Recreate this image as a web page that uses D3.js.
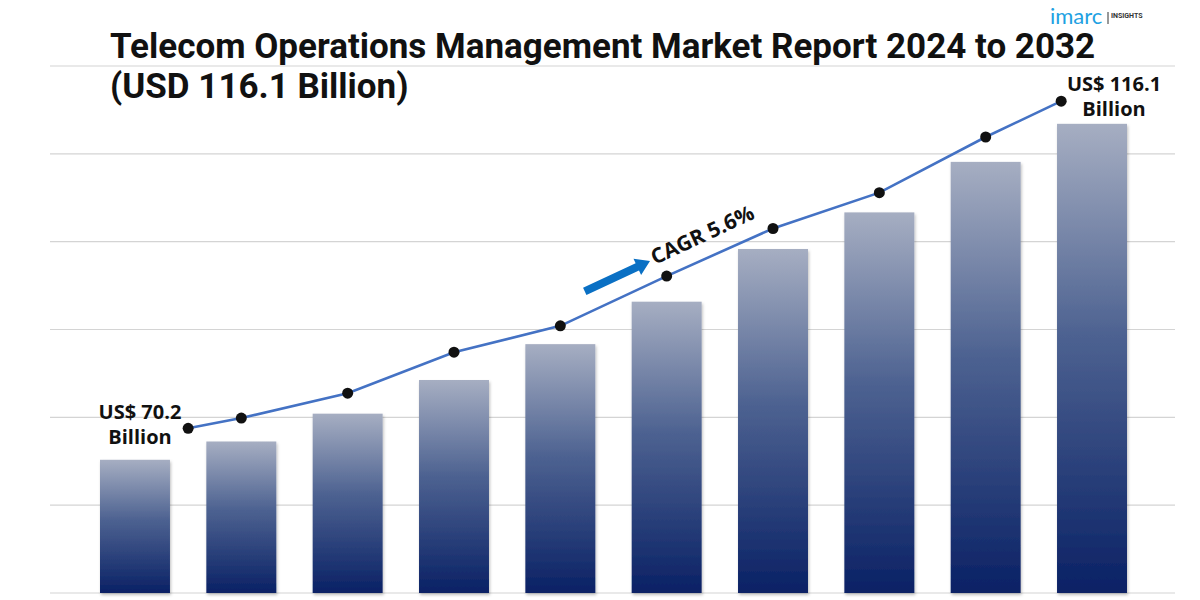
<!DOCTYPE html>
<html>
<head>
<meta charset="utf-8">
<script src="https://cdn.jsdelivr.net/npm/d3@7"></script>
<style>
  html, body { margin: 0; padding: 0; background: #ffffff; }
  svg { display: block; }
</style>
</head>
<body>
<svg id="chart" width="1200" height="600"></svg>
<script>
// ---------- data ----------
const years = ["2023","2024","2025","2026","2027","2028","2029","2030","2031","2032"];
const barValues = [70.2, 72.7, 76.5, 81.1, 86.0, 91.8, 99.0, 104.0, 110.9, 116.1];
const trendValues = [74.5, 75.9, 79.3, 84.9, 88.5, 95.3, 101.8, 106.7, 114.3, 119.2];
const gridValues = [52, 64, 76, 88, 100, 112, 124];
const titleLines = ["Telecom Operations Management Market Report 2024 to 2032", "(USD 116.1 Billion)"];
const startLabel = ["US$ 70.2", "Billion"];
const endLabel = ["US$ 116.1", "Billion"];
const cagrLabel = "CAGR 5.6%";

// ---------- layout ----------
const svg = d3.select("#chart");

const x = d3.scaleBand().domain(years).range([100, 1127]).paddingInner(0.342).paddingOuter(0);
const y = d3.scaleLinear().domain([52, 124]).range([593, 66]);
const cx = i => x(years[i]) + x.bandwidth() / 2;

const defs = svg.append("defs");
const grad = defs.append("linearGradient").attr("id", "barGrad")
  .attr("x1", 0).attr("y1", 0).attr("x2", 0).attr("y2", 1);
grad.append("stop").attr("offset", "0%").attr("stop-color", "#a6aec2");
grad.append("stop").attr("offset", "45%").attr("stop-color", "#4d6291");
grad.append("stop").attr("offset", "100%").attr("stop-color", "#0a2165");

const shadow = defs.append("filter").attr("id", "shadow")
  .attr("x", "-10%").attr("y", "-5%").attr("width", "130%").attr("height", "115%");
shadow.append("feDropShadow").attr("dx", 1).attr("dy", 2).attr("stdDeviation", 1.5)
  .attr("flood-color", "#000").attr("flood-opacity", 0.25);

// gridlines
svg.append("g").selectAll("line").data(gridValues).join("line")
  .attr("x1", 50).attr("x2", 1175)
  .attr("y1", d => y(d)).attr("y2", d => y(d))
  .attr("stroke", "#d4d4d4").attr("stroke-width", 1.2);

// bars
svg.append("g").selectAll("rect").data(barValues).join("rect")
  .attr("x", (d, i) => x(years[i]))
  .attr("width", x.bandwidth())
  .attr("y", d => y(d))
  .attr("height", d => y(52) - y(d))
  .attr("fill", "url(#barGrad)")
  .attr("filter", "url(#shadow)");

// trend line: end points pulled inward toward neighbours
const step = x.step();
const lastIdx = years.length - 1;
const lx = (d, i) => {
  if (i === 0) return cx(i) + 0.5 * step;
  if (i === lastIdx) return cx(i) - 0.29 * step;
  return cx(i);
};
const line = d3.line().x((d, i) => lx(d, i)).y(d => y(d));
svg.append("path").datum(trendValues)
  .attr("d", line)
  .attr("fill", "none")
  .attr("stroke", "#4472c4")
  .attr("stroke-width", 2.6);
svg.append("g").selectAll("circle").data(trendValues).join("circle")
  .attr("cx", (d, i) => lx(d, i))
  .attr("cy", d => y(d))
  .attr("r", 5.5)
  .attr("fill", "#111");

// title
svg.append("g").selectAll("text").data(titleLines).join("text")
  .attr("x", 110)
  .attr("y", (d, i) => 58 + i * 40)
  .attr("font-family", "Roboto, 'Noto Sans', sans-serif")
  .attr("font-weight", 700)
  .attr("font-size", 35)
  .attr("fill", "#111")
  .text(d => d);

// value labels
const lblFont = "'Open Sans', 'Noto Sans', sans-serif";
svg.append("g").selectAll("text").data(startLabel).join("text")
  .attr("x", cx(0) + 5)
  .attr("y", (d, i) => y(barValues[0]) - 41 + i * 25)
  .attr("text-anchor", "middle")
  .attr("font-family", lblFont).attr("font-weight", 700).attr("font-size", 20)
  .attr("fill", "#111").text(d => d);
svg.append("g").selectAll("text").data(endLabel).join("text")
  .attr("x", cx(lastIdx) + 22)
  .attr("y", (d, i) => y(barValues[lastIdx]) - 33 + i * 25)
  .attr("text-anchor", "middle")
  .attr("font-family", lblFont).attr("font-weight", 700).attr("font-size", 20)
  .attr("fill", "#111").text(d => d);

// CAGR label + arrow
const cg = svg.append("g").attr("transform", "translate(655,265) rotate(-25)");
cg.append("text").attr("x", 0).attr("y", 0)
  .attr("font-family", lblFont).attr("font-weight", 700).attr("font-size", 21)
  .attr("fill", "#111").text(cagrLabel);
const ag = svg.append("g").attr("transform", "translate(650,261) rotate(-25)");
ag.append("path")
  .attr("d", "M-72,-4 L-14,-4 L-14,-9 L0,0 L-14,9 L-14,4 L-72,4 Z")
  .attr("fill", "#0a70c4");

// logo
const logo = svg.append("g");
logo.append("text").attr("x", 1050).attr("y", 24)
  .attr("font-family", "Lato, 'Open Sans', sans-serif").attr("font-weight", 400)
  .attr("font-size", 22).attr("fill", "#1da1e2").text("imarc");
logo.append("line").attr("x1", 1108).attr("x2", 1108).attr("y1", 12).attr("y2", 24)
  .attr("stroke", "#333").attr("stroke-width", 1);
logo.append("text").attr("x", 1111).attr("y", 18)
  .attr("font-family", "Roboto, sans-serif").attr("font-weight", 700)
  .attr("font-size", 7).attr("fill", "#333").text("INSIGHTS");
</script>
</body>
</html>
